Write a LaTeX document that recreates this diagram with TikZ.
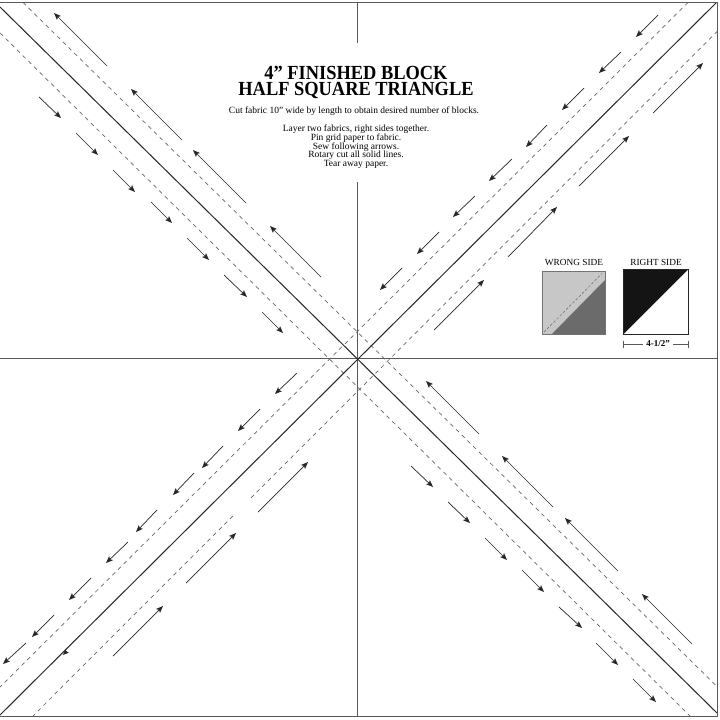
\documentclass[tikz,border=0pt]{standalone}
\usepackage{fontspec}
\setmainfont{Liberation Serif}
\usetikzlibrary{arrows.meta,calc}
\begin{document}
\begin{tikzpicture}[x=1pt,y=-1pt,
  solidline/.style={line width=1pt, draw=black!85},
  seam/.style={line width=0.7pt, draw=black!60, dash pattern=on 4pt off 4pt},
  guide/.style={line width=0.9pt, draw=black!65},
  sewarrow/.style={line width=0.7pt, draw=black!85, -{Stealth[length=7pt,width=5.5pt,inset=1.5pt]}},
  titletext/.style={inner sep=0pt, anchor=base, align=center, font=\fontsize{20}{16.7}\selectfont\bfseries},
  smalltext/.style={inner sep=0pt, anchor=base, align=center, font=\fontsize{9.5}{8.75}\selectfont},
  swatchlabel/.style={inner sep=0pt, anchor=base, font=\fontsize{9.3}{9.3}\selectfont},
  ]
\useasboundingbox (0,0) rectangle (720,720);
\fill[white] (0,0) rectangle (720,720);

% frame
\coordinate (ftl) at (0,2.5);
\coordinate (ftr) at (717.5,2.5);
\coordinate (fbr) at (717.5,716);
\coordinate (fbl) at (0,716);
\draw[guide] (ftl) -- (ftr) -- (fbr) -- (fbl);

% centre lines
\coordinate (ctop) at (357,2.5);
\coordinate (cbot) at (357,716);
\coordinate (cleft) at (0,358);
\coordinate (cright) at (717.5,358);
\draw[guide] (ctop) -- (cbot);
\draw[guide] (cleft) -- (cright);

% diagonal TL-BR
\coordinate (d1a) at (0,7);
\coordinate (d1b) at (717,713);
\coordinate (d1ua) at (23,2.5);
\coordinate (d1ub) at (717.5,687);
\coordinate (d1la) at (0,33);
\coordinate (d1lb) at (690,716);
\draw[solidline] (d1a) -- (d1b);
\draw[seam] (d1ua) -- (d1ub);
\draw[seam] (d1la) -- (d1lb);

% diagonal TR-BL
\coordinate (d2a) at (716,3);
\coordinate (d2b) at (0,715);
\coordinate (d2ua) at (688,2.5);
\coordinate (d2ub) at (0,687);
\coordinate (d2la) at (717.5,31);
\coordinate (d2lb) at (33,716);
\draw[solidline] (d2a) -- (d2b);
\draw[seam] (d2ua) -- (d2ub);
\draw[seam] (d2la) -- ($(d2la)!0.683!(d2lb)$);
\draw[seam] ($(d2la)!0.708!(d2lb)$) -- (d2lb);

% sewing arrows
\foreach \xa/\ya/\xb/\yb in {
  107/66/54/13, 182/140/131/89, 246/203/193/150, 321/277/270/226,
  479/434/426/381, 553/507/502/456, 618/571/565/518, 692/644/642/594,
  653/113/703/63, 579/186/629/136, 508/257/557/207, 434/330/484/280,
  258/512/308/462, 186/583/236/533, 113/656/163/606}
  \draw[sewarrow] (\xa,\ya) -- (\xb,\yb);
\foreach \xa/\ya/\xb/\yb in {
  39/97/61/118, 76/133/98/155, 113/170/135/192, 151/202/172/223,
  187/238/209/260, 224/275/247/297, 262/312/283/333,
  411/466/433/487, 448/502/470/523, 485/538/507/560, 522/570/544/592,
  559/607/582/628, 596/643/618/665, 633/679/656/702,
  658/15/636/37, 621/52/599/73, 584/88/562/110, 547/125/526/147,
  512/159/489/181, 475/196/453/217, 439/232/417/254, 402/268/380/290,
  297/373/275/394, 260/409/238/431, 223/446/202/468, 194/473/173/495,
  157/510/136/532, 128/542/106/563, 91/578/69/600, 54/615/32/637,
  26/643/3/664}
  \draw[sewarrow] (\xa,\ya) -- (\xb,\yb);
% stray arrow tip on the solid line
\coordinate (tipa) at (67,651);
\coordinate (tipb) at (63,655);
\draw[line width=0.7pt, draw=black!85, -{Stealth[length=6pt,width=5pt,inset=1.5pt]}] (tipa) -- (tipb);

% title block (white, interrupts the centre line)
\fill[white] (232,43) rectangle (480,182);
\node[titletext] (title) at (356,95.7) {\scalebox{0.92}[1]{4{\char34} FINISHED BLOCK}\\\scalebox{0.92}[1]{HALF SQUARE TRIANGLE}};
\node[smalltext] (cut) at (354,113.5) {Cut fabric 10{\char34} wide by length to obtain desired number of blocks.};
\node[smalltext] (steps) at (356,166.7) {Layer two fabrics, right sides together.\\Pin grid paper to fabric.\\Sew following arrows.\\Rotary cut all solid lines.\\Tear away paper.};

% swatches
\node[swatchlabel] (wl) at (574,265.7) {WRONG SIDE};
\node[swatchlabel] (rl) at (656,265.7) {RIGHT SIDE};
\fill[black!22] (542,271) rectangle (605,334);
\fill[black!58] (552,334) -- (605,334) -- (605,280) -- cycle;
\draw[black!55, line width=0.6pt] (542,271) rectangle (605,334);
\draw[black!60, line width=0.5pt, dash pattern=on 2.5pt off 2pt] (544,332) -- (602,273.5);
\fill[black!92] (623.5,269.5) -- (688,269.5) -- (623.5,334) -- cycle;
\draw[black!85, line width=0.6pt] (623.5,269.5) rectangle (688,334);

% dimension
\coordinate (dl) at (623,344);
\coordinate (dr) at (688,344);
\draw[black!65, line width=0.6pt] (dl) -- (dr);
\draw[black!65, line width=0.6pt] ($(dl)+(0,-3.5)$) -- ($(dl)+(0,3.5)$);
\draw[black!65, line width=0.6pt] ($(dr)+(0,-3.5)$) -- ($(dr)+(0,3.5)$);
\node[fill=white, inner sep=3.5pt, font=\fontsize{9}{9}\selectfont\bfseries] (dim) at (658,344) {4-1/2{\char34}};
\end{tikzpicture}
\end{document}
